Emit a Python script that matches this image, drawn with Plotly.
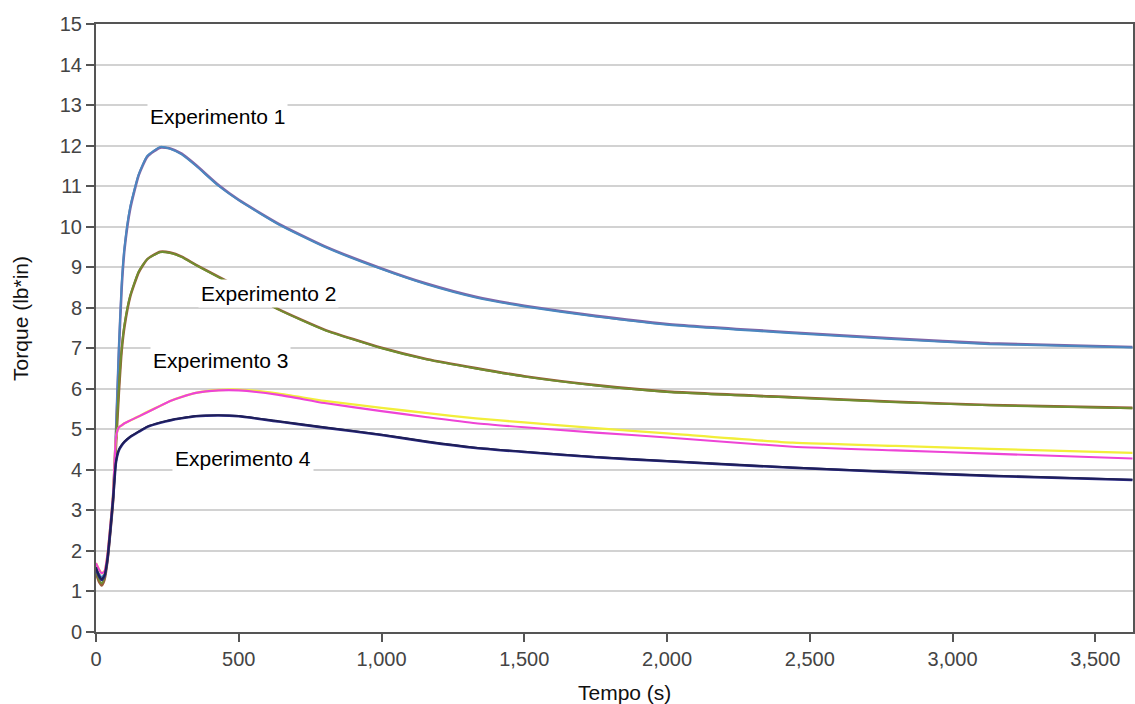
import plotly.graph_objects as go

# Time (s)
tempo = [0, 10, 20, 30, 40, 50, 60, 70, 80, 90, 100, 120, 150, 180, 225, 260, 300,
         350, 430, 500, 640, 800, 1000, 1160, 1330, 1500, 1750, 2000, 2440, 2800, 3130,
         3630]

# Experimento 1 (two replicates)
exp1_a = [1.55, 1.45, 1.35, 1.45, 1.85, 2.6, 3.4, 5.0, 7.0, 8.6, 9.5, 10.5, 11.3, 11.75,
          11.97, 11.92, 11.78, 11.5, 11.0, 10.65, 10.05, 9.5, 8.95, 8.57, 8.25, 8.03,
          7.78, 7.58, 7.37, 7.22, 7.1, 7.02]
exp1_b = [1.5, 1.4, 1.3, 1.4, 1.8, 2.55, 3.35, 4.9, 6.9, 8.5, 9.45, 10.45, 11.28, 11.73,
          11.95, 11.93, 11.8, 11.52, 11.02, 10.66, 10.07, 9.52, 8.97, 8.59, 8.27, 8.05,
          7.8, 7.6, 7.39, 7.24, 7.12, 7.03]

# Experimento 2
exp2_a = [1.5, 1.3, 1.2, 1.35, 1.8, 2.5, 3.3, 4.7, 6.0, 7.0, 7.6, 8.3, 8.9, 9.2, 9.37,
          9.35, 9.25, 9.05, 8.75, 8.5, 7.95, 7.45, 7.0, 6.72, 6.5, 6.3, 6.08, 5.92, 5.78,
          5.67, 5.59, 5.52]
exp2_b = [1.45, 1.25, 1.15, 1.3, 1.75, 2.45, 3.25, 4.6, 5.9, 6.95, 7.55, 8.28, 8.88, 9.2,
          9.38, 9.36, 9.26, 9.06, 8.76, 8.5, 7.96, 7.46, 7.01, 6.73, 6.51, 6.31, 6.09,
          5.93, 5.79, 5.68, 5.6, 5.53]

# Experimento 3
exp3_a = [1.7, 1.55, 1.45, 1.5, 1.9, 2.6, 3.4, 4.8, 5.05, 5.1, 5.15, 5.22, 5.32, 5.43,
          5.58, 5.7, 5.8, 5.9, 5.97, 5.98, 5.88, 5.7, 5.53, 5.4, 5.27, 5.17, 5.03, 4.9,
          4.67, 4.59, 4.52, 4.42]
exp3_b = [1.7, 1.55, 1.45, 1.5, 1.9, 2.6, 3.4, 4.8, 5.05, 5.1, 5.15, 5.22, 5.32, 5.42,
          5.58, 5.7, 5.8, 5.9, 5.96, 5.96, 5.85, 5.65, 5.45, 5.3, 5.15, 5.05, 4.92, 4.8,
          4.57, 4.48, 4.4, 4.28]

# Experimento 4
exp4_a = [1.6, 1.4, 1.3, 1.4, 1.8, 2.5, 3.3, 4.2, 4.5, 4.62, 4.7, 4.82, 4.95, 5.07,
          5.17, 5.23, 5.28, 5.33, 5.35, 5.33, 5.2, 5.05, 4.87, 4.7, 4.55, 4.45, 4.32,
          4.22, 4.06, 3.95, 3.86, 3.76]
exp4_b = [1.55, 1.38, 1.28, 1.38, 1.78, 2.48, 3.28, 4.18, 4.48, 4.6, 4.69, 4.81, 4.94,
          5.06, 5.16, 5.22, 5.27, 5.32, 5.34, 5.32, 5.19, 5.04, 4.86, 4.69, 4.54, 4.44,
          4.31, 4.21, 4.05, 3.94, 3.85, 3.75]

# drawn in this order (later on top)
series = [
    (exp1_b, "#8066a8", 2.6), (exp1_a, "#4a87bf", 1.9),
    (exp2_b, "#9a5c3a", 2.6), (exp2_a, "#6f8e30", 1.9),
    (exp3_a, "#f2ee3a", 2.3), (exp3_b, "#ee44d6", 2.1),
    (exp4_b, "#2c2c86", 2.5), (exp4_a, "#1e1e58", 1.9),
]

labels = ["Experimento 1", "Experimento 2", "Experimento 3", "Experimento 4"]
label_t = [425, 604, 435, 516]
label_y = [12.73, 8.34, 6.71, 4.29]

x_ticks = [0, 500, 1000, 1500, 2000, 2500, 3000, 3500]

fig = go.Figure()
for vals, col, w in series:
    fig.add_trace(go.Scatter(x=tempo, y=vals, mode="lines",
                             line=dict(color=col, width=w, shape="spline", smoothing=0.5),
                             hoverinfo="skip"))

for txt, tx, ty in zip(labels, label_t, label_y):
    fig.add_annotation(x=tx, y=ty, xref="x", yref="y", text=txt, showarrow=False,
                       font=dict(size=21, color="#000000"), bgcolor="white",
                       borderpad=2, xanchor="center", yanchor="middle")

fig.add_annotation(x=0.51, y=-0.0987, xref="paper", yref="paper", text="Tempo (s)",
                   showarrow=False, font=dict(size=21, color="#111111"),
                   xanchor="center", yanchor="middle")
fig.add_annotation(x=-0.0723, y=0.515, xref="paper", yref="paper", text="Torque (lb*in)",
                   showarrow=False, textangle=-90, font=dict(size=21, color="#111111"),
                   xanchor="center", yanchor="middle")

fig.update_layout(
    width=1135, height=704,
    margin=dict(l=96, r=2, t=24, b=72, autoexpand=False),
    plot_bgcolor="white", paper_bgcolor="white",
    showlegend=False,
    font=dict(family="Liberation Sans, Arial, sans-serif"),
)
fig.update_xaxes(range=[0, 3632], tickvals=x_ticks, tickformat=",d", automargin=False,
                 ticks="outside", ticklen=8, tickwidth=2, tickcolor="#555555",
                 showline=True, linecolor="#555555", linewidth=2, mirror=True,
                 showgrid=False, zeroline=False,
                 tickfont=dict(size=20, color="#444444"))
fig.update_yaxes(range=[0, 15], dtick=1, automargin=False,
                 ticks="outside", ticklen=8, tickwidth=2, tickcolor="#555555",
                 showline=True, linecolor="#555555", linewidth=2, mirror=True,
                 showgrid=True, gridcolor="#d2d2d2", gridwidth=1.5, zeroline=False,
                 tickfont=dict(size=20, color="#444444"))

fig.write_html("out.html", config={"displayModeBar": False},
               post_script="document.body.style.margin='0';document.body.style.overflow='hidden';")
